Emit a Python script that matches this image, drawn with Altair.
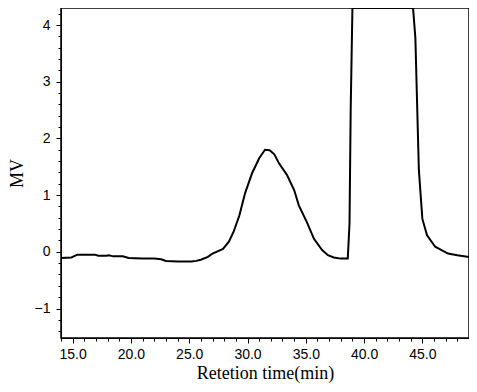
import altair as alt
import pandas as pd

times = [14.0, 14.9, 15.4, 16.0, 16.9, 17.2, 17.9, 18.1, 18.5, 19.3, 19.8, 21.0, 22.0, 22.6, 23.0, 24.0,
         25.2, 25.6, 26.0, 26.6, 27.0, 27.9, 28.4, 28.8, 29.3, 29.8, 30.4, 31.0, 31.5, 31.9, 32.3,
         32.7, 33.4, 34.0, 34.4, 35.1, 35.7, 36.4, 36.9, 37.4, 38.0, 38.6, 38.75, 38.85, 39.0,
         44.2, 44.4, 44.7, 45.0, 45.4, 46.1, 47.2, 48.0, 49.0]
signal = [-0.11, -0.1, -0.05, -0.05, -0.05, -0.07, -0.07, -0.06, -0.08, -0.08, -0.11, -0.12, -0.12, -0.13,
          -0.16, -0.17, -0.17, -0.16, -0.14, -0.09, -0.03, 0.05, 0.18, 0.35, 0.64, 1.04, 1.39, 1.65,
          1.80, 1.79, 1.72, 1.56, 1.35, 1.09, 0.82, 0.52, 0.23, 0.03, -0.06, -0.1, -0.12, -0.12,
          0.5, 2.5, 4.3, 4.3, 3.77, 1.44, 0.58, 0.29, 0.09, -0.03, -0.06, -0.09]

x_major = [15.0, 20.0, 25.0, 30.0, 35.0, 40.0, 45.0]
x_minor = list(range(14, 50))
y_major = [-1, 0, 1, 2, 3, 4]
y_minor = [round(-1.4 + 0.2 * i, 1) for i in range(29)]

df = pd.DataFrame({"t": times, "mv": signal})

xs = alt.Scale(domain=[14, 49], nice=False, zero=False)
ys = alt.Scale(domain=[-1.52, 4.3], nice=False, zero=False)

label_font = "Liberation Sans"
title_font = "Liberation Serif"

line = alt.Chart(df).mark_line(color="black", strokeWidth=2, clip=True).encode(
    x=alt.X("t:Q", scale=xs,
            axis=alt.Axis(values=x_major, format=".1f", orient="bottom", tickSize=5,
                          tickColor="black", domainColor="black", domainWidth=1,
                          labelFont=label_font, labelFontSize=14, labelColor="black",
                          labelPadding=4, grid=False, title="Retetion time(min)",
                          titleFont=title_font, titleFontSize=18, titleFontWeight="normal",
                          titleColor="black", titlePadding=3)),
    y=alt.Y("mv:Q", scale=ys,
            axis=alt.Axis(values=y_major, format="d", orient="left", tickSize=5,
                          tickColor="black", domainColor="black", labelFont=label_font,
                          labelFontSize=14, labelColor="black", labelPadding=6, grid=False,
                          title="MV", titleFont=title_font, titleFontSize=18,
                          titleFontWeight="normal", titleColor="black", titlePadding=8)),
)

minor = alt.Chart(df).mark_point(opacity=0).encode(
    x=alt.X("t:Q", scale=xs,
            axis=alt.Axis(values=x_minor, orient="bottom", labels=False, tickSize=3,
                          tickColor="black", domain=False, grid=False, title=None)),
    y=alt.Y("mv:Q", scale=ys,
            axis=alt.Axis(values=y_minor, orient="left", labels=False, tickSize=3,
                          tickColor="black", domain=False, grid=False, title=None)),
)

chart = alt.layer(line, minor).resolve_axis(x="independent", y="independent").properties(
    width=408, height=330,
    autosize=alt.AutoSizeParams(type="none"),
    padding={"left": 53, "top": 0, "right": 0, "bottom": 46},
).configure_view(stroke="black", strokeWidth=1.5)

chart.save("out.html", embed_options={"renderer": "svg", "actions": False})
